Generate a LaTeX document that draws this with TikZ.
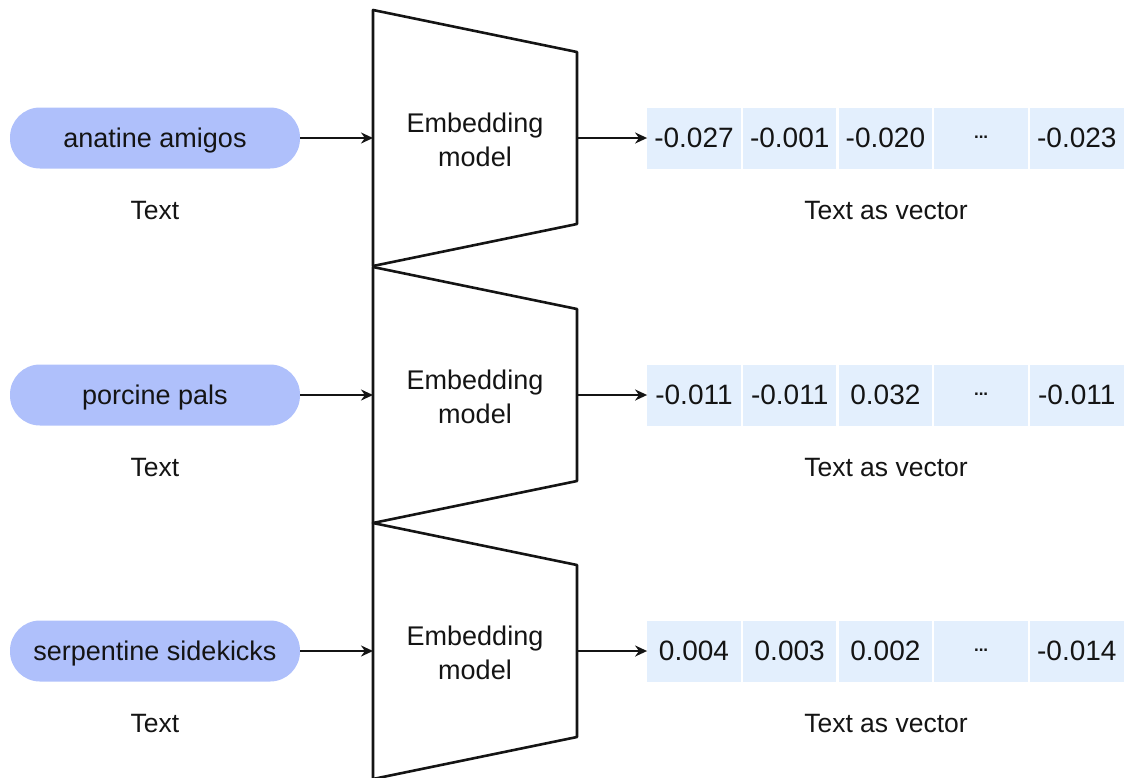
\documentclass[tikz,border=0pt]{standalone}
\usepackage{fontspec}
\setmainfont{Liberation Sans}
\usetikzlibrary{arrows.meta}
\definecolor{pillblue}{RGB}{175,192,251}
\definecolor{cellblue}{RGB}{227,239,253}
\definecolor{ink}{RGB}{20,20,20}
\tikzset{
  pill/.style={fill=pillblue, rounded corners=30pt, minimum width=290pt, minimum height=61pt, inner sep=0pt, text height=19.5pt, text depth=0pt, text=ink, font=\fontsize{27}{30}\selectfont},
  cell/.style={fill=cellblue, minimum width=93.4pt, minimum height=61pt, inner sep=0pt, text=ink, font=\fontsize{28}{32}\selectfont},
  lbl/.style={text=ink, font=\fontsize{26.5}{30}\selectfont, inner sep=0pt},
  modeltxt/.style={text=ink, font=\fontsize{27}{34}\selectfont, align=center, inner sep=0pt},
  trap/.style={draw=ink, line width=2.6pt, line join=round},
  conn/.style={draw=ink, line width=2.2pt, -{Stealth[length=12pt,width=11pt]}},
}
\begin{document}
\begin{tikzpicture}[x=1pt,y=-1pt]
\useasboundingbox (0,0) rectangle (1129,777);
\foreach \k/\txt/\va/\vb/\vc/\ve in {0/anatine amigos/-0.027/-0.001/-0.020/-0.023,
                               1/porcine pals/-0.011/-0.011/0.032/-0.011,
                               2/serpentine sidekicks/0.004/0.003/0.002/-0.014}{
  \pgfmathsetmacro{\top}{round(10+256.5*\k)}
  \pgfmathsetmacro{\mid}{\top+128}
  % trapezoid
  \draw[trap] (373,\top) -- (577,\top+42) -- (577,\top+214) -- (373,\top+256) -- cycle;
  \coordinate (in\k) at (373,\mid);
  \coordinate (out\k) at (577,\mid);
  \node[modeltxt] (m\k) at (475,\mid+2) {Embedding\\model};
  % input
  \node[pill] (p\k) at (155,\mid) {\txt};
  \node[lbl] (t\k) at (155,\mid+73) {Text};
  % vector
  \node[cell] (c\k a) at (694,\mid) {\va};
  \node[cell] (c\k b) at (789.7,\mid) {\vb};
  \node[cell] (c\k c) at (885.4,\mid) {\vc};
  \node[cell] (c\k d) at (981.1,\mid) {\raisebox{0.1ex}{\fontsize{17}{17}\selectfont\textbf{...}}};
  \node[cell] (c\k e) at (1076.8,\mid) {\ve};
  \node[lbl] (v\k) at (886,\mid+73) {Text as vector};
  % connectors
  \draw[conn] (p\k.east) -- (in\k);
  \draw[conn] (out\k) -- (c\k a.west);
}
\end{tikzpicture}
\end{document}
